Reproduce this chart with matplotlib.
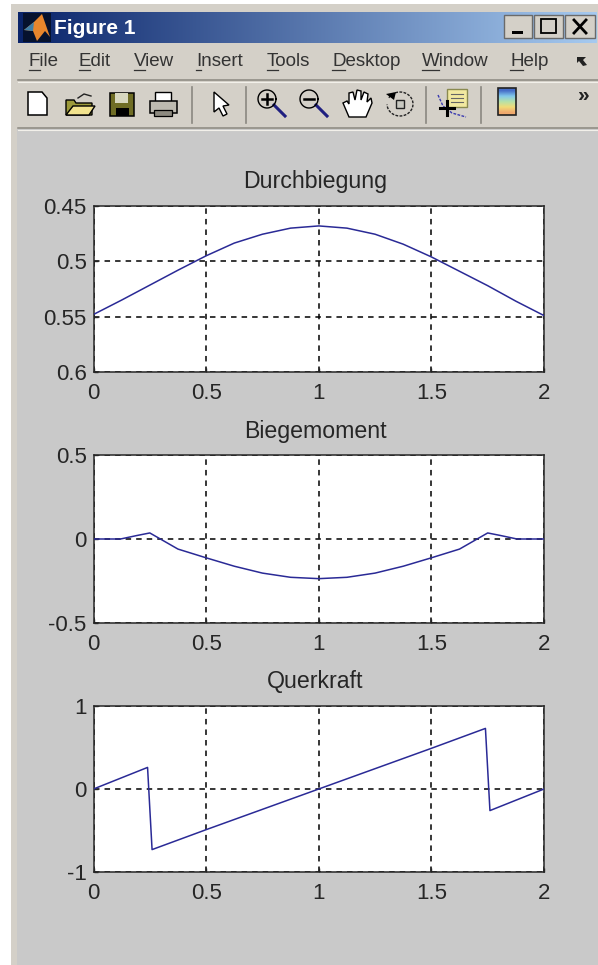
import numpy as np
import matplotlib
matplotlib.use('Agg')
import matplotlib.pyplot as plt
from matplotlib.patches import Rectangle, Polygon

plt.rcParams['font.family'] = ['Liberation Sans', 'DejaVu Sans']

# Sample data
x1 = [0, 0.125, 0.25, 0.375, 0.5, 0.625, 0.75, 0.875, 1,
      1.125, 1.25, 1.375, 1.5, 1.625, 1.75, 1.875, 2]
durchbiegung = [0.548, 0.535, 0.5215, 0.508, 0.495, 0.4835, 0.4755, 0.470, 0.468,
                0.470, 0.4755, 0.4845, 0.496, 0.509, 0.522, 0.536, 0.549]

x2 = [0, 0.12, 0.19, 0.25, 0.375, 0.5, 0.625, 0.75, 0.875, 1,
      1.125, 1.25, 1.375, 1.5, 1.625, 1.75, 1.81, 1.88, 2]
biegemoment = [0, 0, 0.02, 0.036, -0.06, -0.112, -0.162, -0.203, -0.228, -0.236,
               -0.228, -0.203, -0.162, -0.112, -0.06, 0.036, 0.02, 0, 0]

x3 = [0, 0.24, 0.26, 0.5, 1, 1.5, 1.74, 1.76, 2]
querkraft = [0, 0.26, -0.73, -0.49, 0, 0.49, 0.73, -0.26, 0]

titles = ['Durchbiegung', 'Biegemoment', 'Querkraft']
xticks = [0, 0.5, 1, 1.5, 2]
xticklabels = ['0', '0.5', '1', '1.5', '2']
yticks1 = [0.45, 0.5, 0.55, 0.6]
yticks1_labels = ['0.45', '0.5', '0.55', '0.6']
yticks2 = [-0.5, 0, 0.5]
yticks2_labels = ['-0.5', '0', '0.5']
yticks3 = [-1, 0, 1]
yticks3_labels = ['-1', '0', '1']
menu_names = ['File', 'Edit', 'View', 'Insert', 'Tools', 'Desktop', 'Window', 'Help']

W, H = 598, 965
FIG_GRAY = '#c9c9c9'
CHROME = '#d4d0c8'
INK = '#262626'

fig = plt.figure(figsize=(W / 100, H / 100), dpi=100, facecolor='white')

# window chrome, drawn in pixel coordinates
bg = fig.add_axes([0, 0, 1, 1], zorder=0)
bg.axis('off')

bg.add_patch(Rectangle((11, 4), W, H, fc=CHROME, ec='none'))
bg.add_patch(Rectangle((17, 129), W, H, fc=FIG_GRAY, ec='none'))

# title bar
c0 = np.array([10, 36, 106]) / 255
c1 = np.array([166, 202, 240]) / 255
t = np.linspace(0, 1, 256)[None, :, None]
grad = c0[None, None, :] * (1 - t) + c1[None, None, :] * t
bg.imshow(grad, extent=(18, 597, 43, 12), aspect='auto', zorder=1)
bg.add_patch(Rectangle((23, 13), 28, 29, fc='#06122e', ec='none', zorder=2))
bg.add_patch(Polygon([(24, 30), (34, 22), (42, 14), (50, 37), (45, 31), (37, 41), (33, 31)],
                     fc='#e8862c', ec='none', zorder=3))
bg.add_patch(Polygon([(24, 30), (34, 22), (33, 31)], fc='#3f7fa8', ec='none', zorder=3))
bg.text(54, 28, 'Figure 1', color='white', fontsize=15, fontweight='bold', va='center', zorder=3)

# min / max / close buttons
for x0, x9 in [(504, 532), (534, 563), (565, 595)]:
    bg.add_patch(Rectangle((x0, 15), x9 - x0, 23, fc=CHROME, ec='#6a6a6a', lw=1, zorder=3))
bg.add_patch(Rectangle((512, 31), 11, 3, fc='black', ec='none', zorder=4))
bg.add_patch(Rectangle((541, 19), 15, 14, fc='none', ec='black', lw=1.3, zorder=4))
bg.plot([574, 586], [20, 33], color='black', lw=2, zorder=4)
bg.plot([574, 586], [33, 20], color='black', lw=2, zorder=4)

# menu bar
menu_x = [29, 79, 134, 196, 267, 332, 422, 510]
under_w = [11, 11, 11, 5, 11, 13, 17, 13]
for name, mx, uw in zip(menu_names, menu_x, under_w):
    bg.text(mx, 61, name, color='#333333', fontsize=13.5, va='center', zorder=3)
    bg.plot([mx, mx + uw], [70, 70], color='#333333', lw=0.9, zorder=3)
bg.add_patch(Polygon([(577, 57), (586, 57), (583, 60), (587, 65), (583, 66), (579, 61), (577, 63)],
                     fc='#222222', ec='none', zorder=3))

# separators
for yy in [80, 128]:
    bg.plot([18, W], [yy, yy], color='#8a8780', lw=1.1, zorder=2)
    bg.plot([18, W], [yy + 1.5, yy + 1.5], color='#f2f0ea', lw=0.8, zorder=2)
for xx in [192, 246, 426, 481]:
    bg.plot([xx, xx], [87, 123], color='#8a8780', lw=1.2, zorder=2)

# toolbar: new, open, save, print
bg.add_patch(Polygon([(28, 92), (42, 92), (47, 98), (47, 115), (28, 115)], fc='white', ec='black', lw=1.1, zorder=3))
bg.add_patch(Polygon([(66, 100), (74, 100), (76, 103), (92, 103), (92, 115), (66, 115)], fc='#9c9a3a', ec='black', lw=1, zorder=3))
bg.add_patch(Polygon([(66, 115), (73, 106), (95, 106), (89, 115)], fc='#f2e38e', ec='black', lw=1, zorder=3))
bg.plot([78, 84, 91], [98, 94, 96], color='#222222', lw=1, zorder=3)
bg.add_patch(Rectangle((110, 93), 24, 23, fc='#6f6d25', ec='black', lw=1.1, zorder=3))
bg.add_patch(Rectangle((115, 93), 13, 10, fc='#d8d8c0', ec='none', zorder=4))
bg.add_patch(Rectangle((116, 108), 13, 8, fc='black', ec='none', zorder=4))
bg.add_patch(Rectangle((155, 92), 16, 10, fc='white', ec='black', lw=1, zorder=3))
bg.add_patch(Rectangle((150, 101), 27, 12, fc='#bdbab0', ec='black', lw=1.1, zorder=4))
bg.add_patch(Rectangle((154, 110), 18, 6, fc='#8d8a80', ec='black', lw=0.9, zorder=4))

# arrow
bg.add_patch(Polygon([(214, 92), (214, 112), (219, 108), (223, 116), (227, 114), (223, 106), (229, 105)],
                     fc='white', ec='black', lw=1, zorder=3))

# zoom in / zoom out
for cx, is_plus in [(267, True), (309, False)]:
    bg.plot([cx + 7, cx + 18], [105, 116], color='#1f1f80', lw=2.2, zorder=3)
    bg.plot(cx + 9 * np.cos(np.linspace(0, 2 * np.pi, 40)), 99 + 9 * np.sin(np.linspace(0, 2 * np.pi, 40)),
            color='black', lw=1, zorder=3)
    bg.plot([cx - 5, cx + 5], [99, 99], color='black', lw=1.8, zorder=3)
    if is_plus:
        bg.plot([cx, cx], [94, 104], color='black', lw=1.8, zorder=3)

# hand
bg.add_patch(Polygon([(349, 117), (343, 103), (347, 101), (349, 104), (349, 93), (353, 92), (355, 100),
                      (357, 90), (361, 91), (361, 100), (364, 92), (368, 94), (367, 102), (371, 98),
                      (372, 103), (366, 117)], fc='white', ec='black', lw=1, zorder=3))

# rotate
bg.plot(400 + 13 * np.cos(np.linspace(-2.6, 3.1, 40)), 104 + 12 * np.sin(np.linspace(-2.6, 3.1, 40)),
        color='#222222', lw=1, ls=(0, (2, 1)), zorder=3)
bg.add_patch(Polygon([(386, 94), (396, 92), (394, 100)], fc='black', ec='none', zorder=3))
bg.add_patch(Rectangle((396, 100), 8, 8, fc='#c8c8c0', ec='#222222', lw=1, zorder=3))

# data cursor
bg.plot([438, 443, 452, 466], [95, 106, 113, 117], color='#3a3ab0', lw=1, ls=(0, (2, 1)), zorder=3)
bg.add_patch(Rectangle((447, 89), 20, 18, fc='#f2e9a0', ec='#8a8a50', lw=1, zorder=3))
for yy in [94, 98, 102]:
    bg.plot([451, 463], [yy, yy], color='#666666', lw=0.8, zorder=4)
bg.plot([440, 454], [108, 108], color='black', lw=2.2, zorder=4)
bg.plot([447, 447], [101, 115], color='black', lw=2.2, zorder=4)

# colorbar button
bar = np.array([[70, 110, 200], [130, 200, 235], [180, 225, 170], [240, 220, 120], [240, 170, 110]]) / 255
bg.imshow(bar[:, None, :], extent=(498, 516, 115, 88), aspect='auto', interpolation='bilinear', zorder=3)
bg.add_patch(Rectangle((498, 88), 18, 27, fc='none', ec='#222222', lw=1.2, zorder=4))
bg.text(584, 96, '\u00bb', color='#222222', fontsize=15, fontweight='bold', ha='center', va='center', zorder=3)

bg.set_xlim(0, W)
bg.set_ylim(H, 0)


def make_axes(top, bottom, xs, ys, title, yticks, ylabels, ylim, title_pad):
    left, right = 93.5, 544
    ax = fig.add_axes([left / W, 1 - bottom / H, (right - left) / W, (bottom - top) / H], zorder=1)
    ax.plot(xs, ys, color='#2a2a96', lw=1.1, zorder=3)
    ax.set_xlim(0, 2)
    ax.set_ylim(*ylim)
    ax.set_xticks(xticks)
    ax.set_xticklabels(xticklabels)
    ax.set_yticks(yticks)
    ax.set_yticklabels(ylabels)
    ax.tick_params(axis='x', direction='in', length=3, width=1, pad=8, labelsize=16, colors=INK)
    ax.tick_params(axis='y', direction='in', length=3, width=1, pad=5, labelsize=16, colors=INK)
    ax.grid(True, color='black', lw=1.1, linestyle=(0, (3.6, 3.3)))
    ax.set_axisbelow(True)
    for s in ax.spines.values():
        s.set_color(INK)
        s.set_linewidth(1.1)
    ax.set_title(title, fontsize=16.7, color=INK, pad=title_pad, x=0.4917)
    return ax


make_axes(206, 372, x1, durchbiegung, titles[0], yticks1, yticks1_labels, (0.6, 0.45), 13)
make_axes(455, 623, x2, biegemoment, titles[1], yticks2, yticks2_labels, (-0.5, 0.5), 12.2)
make_axes(706, 872, x3, querkraft, titles[2], yticks3, yticks3_labels, (-1, 1), 13)

plt.savefig('out.png', dpi=100, facecolor=fig.get_facecolor())
